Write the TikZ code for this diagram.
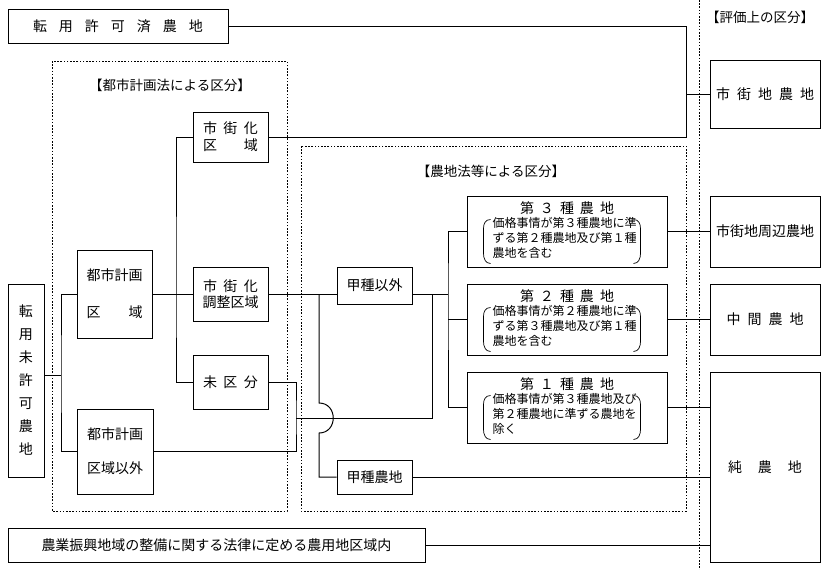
\documentclass[tikz,border=0pt]{standalone}
\usepackage{fontspec}
\setmainfont{Noto Sans CJK JP}
\usetikzlibrary{calc}
\newcommand{\myhs}[1]{\hspace{#1pt}}
\newcommand{\parpair}[1]{%
  \begin{scope}[shift={(#1.north west)}]
    \draw[parenline] (24,24) .. controls (19,24) and (17,28) .. (17,33) -- (17,58) .. controls (17,63) and (19,68) .. (24,68);
  \end{scope}
  \begin{scope}[shift={(#1.north east)}]
    \draw[parenline] (-34,24) .. controls (-29,24) and (-27,28) .. (-27,33) -- (-27,58) .. controls (-27,63) and (-29,68) .. (-34,68);
  \end{scope}}
\tikzset{
  box/.style={draw, line width=1pt, inner sep=0pt, align=center, font=\fontsize{14}{17}\selectfont},
  conn/.style={line width=1pt},
  parenline/.style={line width=0.7pt},
  dotframe/.style={line width=0.9pt, dash pattern=on 1.6pt off 1.6pt},
  lbl/.style={font=\fontsize{13.5}{16}\selectfont, inner sep=0pt},
  ttl/.style={font=\fontsize{14}{16}\selectfont, inner sep=0pt},
  small/.style={font=\fontsize{12}{15}\selectfont, align=left, inner sep=0pt, anchor=west},
}
\begin{document}
\begin{tikzpicture}[x=1pt,y=-1pt]
\useasboundingbox (0,0) rectangle (830,570);

% frames
\draw[dotframe] (52,61) rectangle (287,511);
\draw[dotframe] (301,146) rectangle (686,511);
\draw[dotframe] (699,0) -- (699,570);

% labels
\node[lbl] (l1) at (170,85) {【都市計画法による区分】};
\node[lbl] (l2) at (491,171) {【農地法等による区分】};
\node[lbl] (l3) at (760,17) {【評価上の区分】};

% boxes
\node[box, minimum width=220pt, minimum height=34pt] (kyoka) at (118,26) {転\myhs{12}用\myhs{12}許\myhs{12}可\myhs{12}済\myhs{12}農\myhs{12}地};
\node[box, minimum width=110pt, minimum height=68pt] (shigaichi) at (765,94) {市\myhs{7}街\myhs{7}地\myhs{7}農\myhs{7}地};
\node[box, minimum width=36pt, minimum height=193pt, font=\fontsize{14}{23}\selectfont] (mikyoka) at (26,380.5) {転\\用\\未\\許\\可\\農\\地};
\node[box, minimum width=75pt, minimum height=88pt, font=\fontsize{14}{37}\selectfont] (toshi) at (114.5,294) {都市計画\\区\myhs{28}域};
\node[box, minimum width=76pt, minimum height=85pt, font=\fontsize{14}{34}\selectfont] (toshigai) at (115,451.5) {都市計画\\区域以外};
\node[box, minimum width=75pt, minimum height=50pt, font=\fontsize{14}{17}\selectfont] (kuiki) at (230.5,137) {市\myhs{6.5}街\myhs{6.5}化\\区\myhs{27}域};
\node[box, minimum width=75pt, minimum height=54pt, font=\fontsize{14}{15.5}\selectfont] (chosei) at (230.5,294) {市\myhs{6.5}街\myhs{6.5}化\\調整区域};
\node[box, minimum width=75pt, minimum height=54pt] (mikubun) at (230.5,382) {未\myhs{6.5}区\myhs{6.5}分};
\node[box, minimum width=75pt, minimum height=37pt] (kouigai) at (374.5,285.5) {甲種以外};
\node[box, minimum width=75pt, minimum height=34pt] (kou) at (374.5,477) {甲種農地};
\node[box, minimum width=200pt, minimum height=71pt] (dai3) at (567,231.5) {};
\node[box, minimum width=200pt, minimum height=71pt] (dai2) at (567,319.5) {};
\node[box, minimum width=200pt, minimum height=71pt] (dai1) at (567,407.5) {};
\node[box, minimum width=110pt, minimum height=71pt] (shuhen) at (765,231.5) {市街地周辺農地};
\node[box, minimum width=110pt, minimum height=71pt] (chukan) at (765,319.5) {中\myhs{7}間\myhs{7}農\myhs{7}地};
\node[box, minimum width=110pt, minimum height=190pt] (jun) at (765,467) {純\myhs{16}農\myhs{16}地};
\node[box, minimum width=417pt, minimum height=34pt] (shinko) at (216.5,545) {農業振興地域の整備に関する法律に定める農用地区域内};

% contents of the farmland class boxes
\node[ttl] (t3) at ($(dai3.north)+(0,13)$) {第\myhs{6}３\myhs{6}種\myhs{6}農\myhs{6}地};
\node[small] (p3) at ($(dai3.north west)+(26,42)$) {価格事情が第３種農地に準\\ずる第２種農地及び第１種\\農地を含む};
\parpair{dai3}
\node[ttl] (t2) at ($(dai2.north)+(0,13)$) {第\myhs{6}２\myhs{6}種\myhs{6}農\myhs{6}地};
\node[small] (p2) at ($(dai2.north west)+(26,42)$) {価格事情が第２種農地に準\\ずる第３種農地及び第１種\\農地を含む};
\parpair{dai2}
\node[ttl] (t1) at ($(dai1.north)+(0,13)$) {第\myhs{6}１\myhs{6}種\myhs{6}農\myhs{6}地};
\node[small] (p1) at ($(dai1.north west)+(26,42)$) {価格事情が第３種農地及び\\第２種農地に準ずる農地を\\除く};
\parpair{dai1}

% connectors
\coordinate (jA) at (686,137);
\draw[conn] (kyoka.east) -| (jA) -- (kuiki.east);
\draw[conn] (jA |- shigaichi.west) -- (shigaichi.west);

\coordinate (jL) at (61,375);
\draw[conn] (mikyoka.east |- jL) -- (jL);
\draw[conn] (toshi.west) -| (jL) |- (toshigai.west);

\coordinate (jM) at (176,294);
\draw[conn] (kuiki.west) -| (jM) |- (mikubun.west);
\draw[conn] (toshi.east) -- (chosei.west);

\coordinate (jK) at (319,294);
\draw[conn] (chosei.east) -- (chosei.east -| kouigai.west);
\coordinate (jB) at (319,418);
\draw[conn] (jK) -- ($(jB)+(0,-15)$) .. controls ($(jB)+(19,-15)$) and ($(jB)+(19,15)$) .. ($(jB)+(0,15)$) |- (kou.west);

\coordinate (jR) at (448,294);
\draw[conn] (kouigai.east |- jK) -- (jR);
\draw[conn] (dai3.west) -| (jR) |- (dai1.west);
\draw[conn] (jR |- dai2.west) -- (dai2.west);

\coordinate (jN) at (296,418);
\coordinate (jP) at (432,294);
\draw[conn] (mikubun.east) -| (jN) |- (toshigai.east);
\draw[conn] (jN) -| (jP);

\draw[conn] (dai3.east) -- (shuhen.west);
\draw[conn] (dai2.east) -- (chukan.west);
\draw[conn] (dai1.east) -- (dai1.east -| jun.west);
\draw[conn] (kou.east) -- (kou.east -| jun.west);
\draw[conn] (shinko.east) -- (shinko.east -| jun.west);
\end{tikzpicture}
\end{document}
